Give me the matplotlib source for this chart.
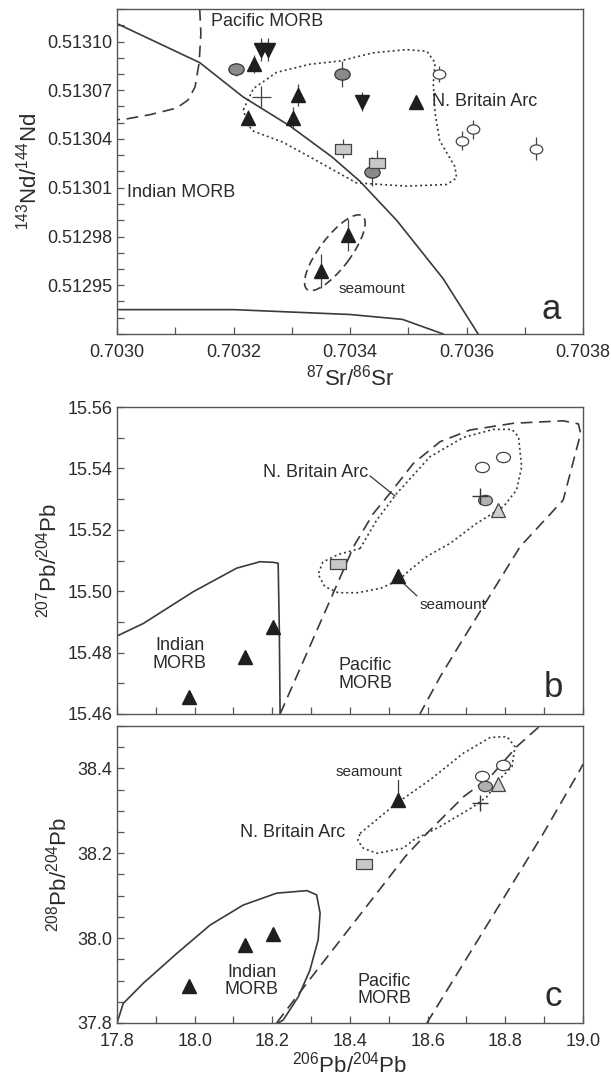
import matplotlib
matplotlib.use("Agg")
import matplotlib.pyplot as plt
from matplotlib.path import Path
from matplotlib.patches import Ellipse
from matplotlib.transforms import Affine2D, ScaledTranslation
from matplotlib.ticker import MultipleLocator, FixedLocator, FormatStrFormatter

plt.rcParams['font.family'] = ['Liberation Sans', 'DejaVu Sans']
plt.rcParams['mathtext.default'] = 'regular'

INK = '#2b2b2b'
LINE = '#3a3a3a'

# ---------------- panel a: Sr-Nd ----------------
tri_up_sr = [0.703235, 0.703310, 0.703225, 0.703302, 0.703513, 0.703397, 0.703351]
tri_up_nd = [0.513086, 0.513067, 0.513053, 0.513053, 0.513063, 0.512981, 0.512959]
tri_up_err = [5.5e-6, 7e-6, 5e-6, 7e-6, 3e-6, 1.0e-5, 1.05e-5]

tri_dn_sr = [0.703247, 0.703260, 0.703420]
tri_dn_nd = [0.513095, 0.513095, 0.513063]
tri_dn_err = [7e-6, 7e-6, 6e-6]

grey_ell_sr = [0.703205, 0.703387, 0.703438]
grey_ell_nd = [0.513083, 0.513080, 0.513020]
grey_ell_err = [4e-6, 8e-6, 9e-6]

sq_sr = [0.703388, 0.703446]
sq_nd = [0.513034, 0.513025]
sq_err = [6e-6, 8e-6]

open_sr = [0.703552, 0.703612, 0.703593, 0.703719]
open_nd = [0.513080, 0.513046, 0.513039, 0.513034]
open_err = [5e-6, 6e-6, 6e-6, 7e-6]

plus_sr, plus_nd = 0.703248, 0.513066
plus_xerr, plus_yerr = 1.7e-5, 6.5e-6

# field outlines
ind_a_sr = [0.70300, 0.703142, 0.703216, 0.703297, 0.703369, 0.703417, 0.703480,
            0.703560, 0.703620]
ind_a_nd = [0.513111, 0.513087, 0.513066, 0.513048, 0.513029, 0.513014, 0.512990,
            0.512954, 0.512920]
low_a_sr = [0.70300, 0.70320, 0.70340, 0.70349, 0.70356]
low_a_nd = [0.512935, 0.512935, 0.512932, 0.512929, 0.512920]
pac_a_sr = [0.703142, 0.703144, 0.703141, 0.703134, 0.703122, 0.703102, 0.703057, 0.703011, 0.70300]
pac_a_nd = [0.513120, 0.513105, 0.513087, 0.513072, 0.513064, 0.513059, 0.513055, 0.513052, 0.513052]
nba_a_sr = [0.703217, 0.703234, 0.703274, 0.703331, 0.703383, 0.703439, 0.703497, 0.703532,
            0.703546, 0.703543, 0.703546, 0.703554, 0.703580, 0.703583, 0.703566, 0.703497,
            0.703411, 0.703331, 0.703285, 0.703233, 0.703223, 0.703217]
nba_a_nd = [0.513058, 0.513071, 0.513081, 0.513086, 0.513088, 0.513093, 0.513095, 0.513094,
            0.513087, 0.513074, 0.513056, 0.513039, 0.513023, 0.513016, 0.513012, 0.513011,
            0.513013, 0.513029, 0.513038, 0.513045, 0.513050, 0.513058]
smt_a_center = (0.703374, 0.512970)

# ---------------- panels b, c: Pb isotopes ----------------
tri_206 = [17.985, 18.130, 18.201]
tri_207 = [15.4656, 15.4786, 15.4884]
tri_208 = [37.888, 37.984, 38.009]

smt_206, smt_207, smt_208 = 18.524, 15.505, 38.326
sq_b_206, sq_207 = 18.368, 15.509
sq_c_206, sq_208 = 18.437, 38.175
open_206 = [18.739, 18.795]
open_207 = [15.5405, 15.5436]
open_208 = [38.382, 38.408]
gcirc_206, gcirc_207, gcirc_208 = 18.748, 15.5297, 38.359
gtri_206, gtri_207, gtri_208 = 18.782, 15.5264, 38.363
cross_206, cross_207, cross_208 = 18.735, 15.531, 38.318

ind_b_206 = [17.80, 17.868, 17.996, 18.108, 18.168, 18.203, 18.215, 18.218, 18.220]
ind_b_207 = [15.4854, 15.4895, 15.4998, 15.5075, 15.5096, 15.5094, 15.5091, 15.4874, 15.460]
pac_b_206 = [18.220, 18.400, 18.409, 18.460, 18.503, 18.563, 18.632, 18.709, 18.821, 18.949,
             18.988, 18.994, 18.949, 18.838, 18.679, 18.632, 18.580]
pac_b_207 = [15.460, 15.5118, 15.5145, 15.5253, 15.5319, 15.5416, 15.5487, 15.5525, 15.5547,
             15.5555, 15.5545, 15.5514, 15.5297, 15.5145, 15.4819, 15.4721, 15.460]
nba_b_206 = [18.426, 18.469, 18.520, 18.606, 18.692, 18.769, 18.817, 18.834, 18.842, 18.829,
             18.795, 18.726, 18.658, 18.600, 18.555, 18.524, 18.480, 18.420, 18.370, 18.335,
             18.318, 18.330, 18.370, 18.400, 18.426]
nba_b_207 = [15.5139, 15.5232, 15.5318, 15.5438, 15.5501, 15.5527, 15.5527, 15.5503, 15.5405,
             15.5330, 15.5275, 15.5221, 15.5156, 15.5115, 15.5070, 15.5035, 15.5010, 15.4995,
             15.4995, 15.5015, 15.5055, 15.5095, 15.5120, 15.5130, 15.5139]

ind_c_206 = [17.80, 17.816, 17.868, 17.954, 18.040, 18.125, 18.211, 18.289, 18.314, 18.323,
             18.318, 18.297, 18.267, 18.228, 18.215]
ind_c_208 = [37.80, 37.846, 37.894, 37.964, 38.031, 38.078, 38.106, 38.112, 38.102, 38.059,
             37.996, 37.925, 37.862, 37.807, 37.80]
pac_c1_206 = [18.211, 18.289, 18.542, 18.598, 18.692, 18.761, 18.829, 18.889]
pac_c1_208 = [37.80, 37.894, 38.192, 38.247, 38.333, 38.380, 38.451, 38.50]
pac_c2_206 = [18.598, 18.898, 18.992, 19.0]
pac_c2_208 = [37.80, 38.247, 38.396, 38.41]
nba_c_206 = [18.426, 18.520, 18.606, 18.692, 18.761, 18.804, 18.825, 18.817, 18.791, 18.752,
             18.718, 18.632, 18.563, 18.537, 18.469, 18.434, 18.420, 18.426]
nba_c_208 = [38.247, 38.318, 38.373, 38.436, 38.473, 38.475, 38.451, 38.404, 38.380, 38.333,
             38.310, 38.263, 38.231, 38.212, 38.200, 38.212, 38.230, 38.247]

# flattened marker shapes
ellipse_mk = Path.unit_circle().transformed(Affine2D().scale(1.35, 1.0))
rect_mk = Path.unit_rectangle().transformed(Affine2D().translate(-0.5, -0.5).scale(1.4, 1.0))


def style_axes(ax):
    for s in ax.spines.values():
        s.set_color('#555555')
        s.set_linewidth(1.0)
    ax.tick_params(which='both', direction='in', length=5, width=0.9, color='#555555',
                   labelsize=13, labelcolor=INK)
    ax.tick_params(axis='x', pad=7)


def errpts(ax, x, y, yerr, zorder=3):
    ax.errorbar(x, y, yerr=yerr, fmt='none', ecolor='#444444', elinewidth=0.9,
                capsize=0, zorder=zorder)


fig = plt.figure(figsize=(6.11, 10.84), dpi=100)
L, W = 117 / 611, 466 / 611
ax_a = fig.add_axes([L, 1 - 334 / 1084, W, 325 / 1084])
ax_b = fig.add_axes([L, 1 - 714 / 1084, W, 307 / 1084])
ax_c = fig.add_axes([L, 1 - 1023 / 1084, W, 297 / 1084])

# ---- a ----
ax = ax_a
ax.plot(ind_a_sr, ind_a_nd, color=LINE, lw=1.2)
ax.plot(low_a_sr, low_a_nd, color=LINE, lw=1.2)
ax.plot(pac_a_sr, pac_a_nd, color=LINE, lw=1.2, dashes=(7, 4))
ax.plot(nba_a_sr, nba_a_nd, color=LINE, lw=1.2, dashes=(1.2, 1.8))
smt = Ellipse((0, 0), width=0.92, height=0.31, angle=53, fill=False, ec=LINE, lw=1.2,
              ls=(0, (5, 3)),
              transform=fig.dpi_scale_trans + ScaledTranslation(*smt_a_center, ax.transData))
ax.add_patch(smt)

errpts(ax, tri_up_sr, tri_up_nd, tri_up_err)
errpts(ax, tri_dn_sr, tri_dn_nd, tri_dn_err)
errpts(ax, grey_ell_sr, grey_ell_nd, grey_ell_err)
errpts(ax, sq_sr, sq_nd, sq_err)
errpts(ax, open_sr, open_nd, open_err)
ax.errorbar([plus_sr], [plus_nd], xerr=plus_xerr, yerr=plus_yerr, fmt='none',
            ecolor='#444444', elinewidth=0.9, capsize=0)
ax.plot(tri_up_sr, tri_up_nd, '^', ms=10, mfc='#1e1e1e', mec='#1e1e1e', ls='none', zorder=4)
ax.plot(tri_dn_sr, tri_dn_nd, 'v', ms=10, mfc='#1e1e1e', mec='#1e1e1e', ls='none', zorder=4)
ax.plot(grey_ell_sr, grey_ell_nd, marker=ellipse_mk, ms=11, mfc='#8a8a8a', mec='#333333',
        mew=0.9, ls='none', zorder=4)
ax.plot(sq_sr, sq_nd, marker=rect_mk, ms=11, mfc='#c8c8c8', mec='#444444', mew=0.9,
        ls='none', zorder=4)
ax.plot(open_sr, open_nd, marker=ellipse_mk, ms=9, mfc='white', mec='#444444', mew=0.9,
        ls='none', zorder=4)

ax.text(0.703257, 0.513112, 'Pacific MORB', fontsize=13, color=INK, ha='center', va='center')
ax.text(0.703540, 0.513063, 'N. Britain Arc', fontsize=13, color=INK, ha='left', va='center')
ax.text(0.703018, 0.513007, 'Indian MORB', fontsize=13, color=INK, ha='left', va='center')
ax.text(0.703380, 0.512948, 'seamount', fontsize=11, color=INK, ha='left', va='center')
ax.text(0.703746, 0.512935, 'a', fontsize=25, color=INK, ha='center', va='center')

ax.set_xlim(0.7030, 0.7038)
ax.set_ylim(0.51292, 0.51312)
ax.xaxis.set_major_locator(MultipleLocator(0.0002))
ax.xaxis.set_minor_locator(MultipleLocator(0.0001))
ax.xaxis.set_major_formatter(FormatStrFormatter('%.4f'))
ax.yaxis.set_major_locator(FixedLocator([0.51295, 0.51298, 0.51301, 0.51304, 0.51307, 0.51310]))
ax.yaxis.set_minor_locator(MultipleLocator(0.00001))
ax.yaxis.set_major_formatter(FormatStrFormatter('%.5f'))
ax.set_xlabel(r'$^{87}$Sr/$^{86}$Sr', fontsize=16, color=INK, labelpad=3)
ax.set_ylabel(r'$^{143}$Nd/$^{144}$Nd', fontsize=16, color=INK, labelpad=4)
style_axes(ax)

# ---- b ----
ax = ax_b
ax.plot(ind_b_206, ind_b_207, color=LINE, lw=1.2)
ax.plot(pac_b_206, pac_b_207, color=LINE, lw=1.2, dashes=(7, 4))
ax.plot(nba_b_206, nba_b_207, color=LINE, lw=1.2, dashes=(1.2, 1.8))
ax.plot(tri_206, tri_207, '^', ms=10, mfc='#1e1e1e', mec='#1e1e1e', ls='none', zorder=4)
ax.plot([smt_206], [smt_207], '^', ms=10, mfc='#1e1e1e', mec='#1e1e1e', ls='none', zorder=4)
ax.plot([sq_b_206], [sq_207], marker=rect_mk, ms=11, mfc='#c8c8c8', mec='#444444', mew=0.9,
        ls='none', zorder=4)
ax.plot(open_206, open_207, marker=ellipse_mk, ms=10, mfc='white', mec='#444444', mew=0.9,
        ls='none', zorder=4)
ax.plot([gcirc_206], [gcirc_207], marker=ellipse_mk, ms=10, mfc='#b0b0b0', mec='#444444',
        mew=0.9, ls='none', zorder=4)
ax.plot([gtri_206], [gtri_207], '^', ms=10, mfc='#cfcfcf', mec='#444444', mew=0.9,
        ls='none', zorder=4)
ax.plot([cross_206], [cross_207], '+', ms=11, mec='#333333', mew=1.0, ls='none', zorder=5)

ax.text(18.446, 15.5388, 'N. Britain Arc', fontsize=13, color=INK, ha='right', va='center')
ax.plot([18.452, 18.516], [15.5375, 15.5310], color=LINE, lw=0.9)
ax.text(18.578, 15.4955, 'seamount', fontsize=11, color=INK, ha='left', va='center')
ax.plot([18.534, 18.572], [15.5030, 15.4985], color=LINE, lw=0.9)
ax.text(17.962, 15.4794, 'Indian\nMORB', fontsize=13, color=INK, ha='center', va='center',
        linespacing=1.05)
ax.text(18.440, 15.4729, 'Pacific\nMORB', fontsize=13, color=INK, ha='center', va='center',
        linespacing=1.05)
ax.text(18.924, 15.4655, 'b', fontsize=25, color=INK, ha='center', va='baseline')

ax.set_xlim(17.8, 19.0)
ax.set_ylim(15.46, 15.56)
ax.xaxis.set_major_locator(MultipleLocator(0.2))
ax.xaxis.set_minor_locator(MultipleLocator(0.1))
ax.tick_params(axis='x', labelbottom=False)
ax.yaxis.set_major_locator(MultipleLocator(0.02))
ax.yaxis.set_minor_locator(MultipleLocator(0.01))
ax.yaxis.set_major_formatter(FormatStrFormatter('%.2f'))
ax.set_ylabel(r'$^{207}$Pb/$^{204}$Pb', fontsize=16, color=INK, labelpad=4)
style_axes(ax)

# ---- c ----
ax = ax_c
ax.plot(ind_c_206, ind_c_208, color=LINE, lw=1.2)
ax.plot(pac_c1_206, pac_c1_208, color=LINE, lw=1.2, dashes=(7, 4))
ax.plot(pac_c2_206, pac_c2_208, color=LINE, lw=1.2, dashes=(7, 4))
ax.plot(nba_c_206, nba_c_208, color=LINE, lw=1.2, dashes=(1.2, 1.8))
ax.plot(tri_206, tri_208, '^', ms=10, mfc='#1e1e1e', mec='#1e1e1e', ls='none', zorder=4)
ax.plot([smt_206], [smt_208], '^', ms=10, mfc='#1e1e1e', mec='#1e1e1e', ls='none', zorder=4)
ax.plot([sq_c_206], [sq_208], marker=rect_mk, ms=11, mfc='#c8c8c8', mec='#444444', mew=0.9,
        ls='none', zorder=4)
ax.plot(open_206, open_208, marker=ellipse_mk, ms=10, mfc='white', mec='#444444', mew=0.9,
        ls='none', zorder=4)
ax.plot([gcirc_206], [gcirc_208], marker=ellipse_mk, ms=10, mfc='#b0b0b0', mec='#444444',
        mew=0.9, ls='none', zorder=4)
ax.plot([gtri_206], [gtri_208], '^', ms=10, mfc='#cfcfcf', mec='#444444', mew=0.9,
        ls='none', zorder=4)
ax.plot([cross_206], [cross_208], '+', ms=11, mec='#333333', mew=1.0, ls='none', zorder=5)

ax.text(18.387, 38.248, 'N. Britain Arc', fontsize=13, color=INK, ha='right', va='center')
ax.text(18.449, 38.391, 'seamount', fontsize=11, color=INK, ha='center', va='center')
ax.plot([smt_206, smt_206], [38.340, 38.373], color=LINE, lw=0.9)
ax.text(18.147, 37.899, 'Indian\nMORB', fontsize=13, color=INK, ha='center', va='center',
        linespacing=1.05)
ax.text(18.488, 37.878, 'Pacific\nMORB', fontsize=13, color=INK, ha='center', va='center',
        linespacing=1.05)
ax.text(18.924, 37.84, 'c', fontsize=25, color=INK, ha='center', va='baseline')

ax.set_xlim(17.8, 19.0)
ax.set_ylim(37.8, 38.5)
ax.xaxis.set_major_locator(MultipleLocator(0.2))
ax.xaxis.set_minor_locator(MultipleLocator(0.1))
ax.xaxis.set_major_formatter(FormatStrFormatter('%.1f'))
ax.yaxis.set_major_locator(MultipleLocator(0.2))
ax.yaxis.set_minor_locator(MultipleLocator(0.05))
ax.yaxis.set_major_formatter(FormatStrFormatter('%.1f'))
ax.set_xlabel(r'$^{206}$Pb/$^{204}$Pb', fontsize=16, color=INK, labelpad=1)
ax.set_ylabel(r'$^{208}$Pb/$^{204}$Pb', fontsize=16, color=INK, labelpad=4)
style_axes(ax)

fig.savefig('out.png', dpi=100)
